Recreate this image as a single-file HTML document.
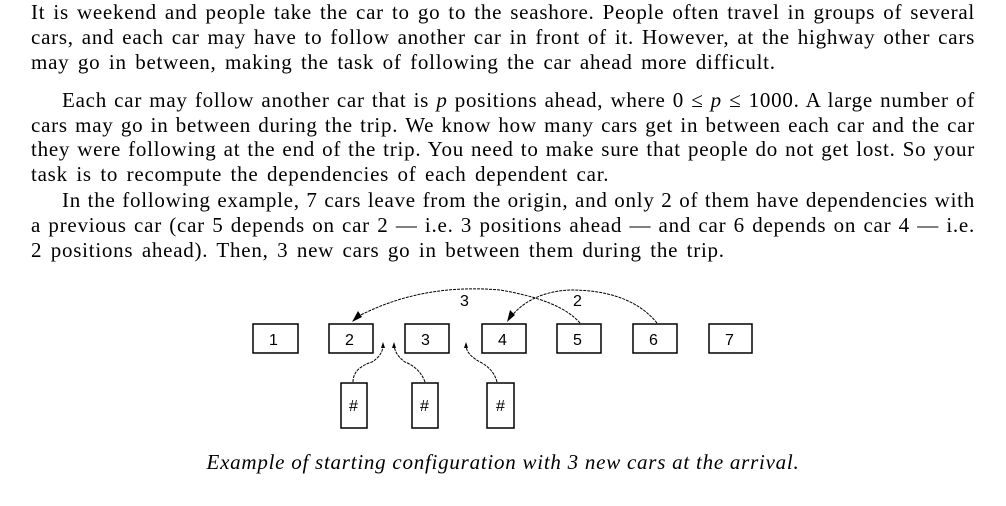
<!DOCTYPE html>
<html><head><meta charset="utf-8"><style>
body{margin:0;background:#fff;width:1006px;height:506px;position:relative;overflow:hidden;font-family:"Liberation Serif",serif;font-size:21px;letter-spacing:0.75px;color:#000}
.l{position:absolute;left:31px;width:944px;height:24px;line-height:24px;text-align:justify;text-align-last:justify;white-space:nowrap}
.l.e{text-align-last:left;word-spacing:2.5px}
.i{left:62px;width:913px}
.cap{position:absolute;left:0;width:1006px;top:450px;text-align:center;font-style:italic;line-height:24px}
</style></head><body>
<div class="l" style="top:0">It is weekend and people take the car to go to the seashore. People often travel in groups of several</div>
<div class="l" style="top:25px">cars, and each car may have to follow another car in front of it. However, at the highway other cars</div>
<div class="l e" style="top:50px">may go in between, making the task of following the car ahead more difficult.</div>
<div class="l i" style="top:88px">Each car may follow another car that is <i>p</i> positions ahead, where 0 ≤ <i>p</i> ≤ 1000. A large number of</div>
<div class="l" style="top:113px">cars may go in between during the trip. We know how many cars get in between each car and the car</div>
<div class="l" style="top:137px">they were following at the end of the trip. You need to make sure that people do not get lost. So your</div>
<div class="l e" style="top:162px">task is to recompute the dependencies of each dependent car.</div>
<div class="l i" style="top:188px">In the following example, 7 cars leave from the origin, and only 2 of them have dependencies with</div>
<div class="l" style="top:213px">a previous car (car 5 depends on car 2 — i.e. 3 positions ahead — and car 6 depends on car 4 — i.e.</div>
<div class="l e" style="top:238px">2 positions ahead). Then, 3 new cars go in between them during the trip.</div>
<svg style="position:absolute;left:0;top:0" width="1006" height="506" font-family="Liberation Sans, sans-serif" font-size="16" letter-spacing="0">
<g fill="none" stroke="#000" stroke-width="1.5">
<rect x="253" y="324" width="45" height="29"/><rect x="329" y="324" width="44" height="29"/>
<rect x="405" y="324" width="44" height="29"/><rect x="482" y="324" width="44" height="29"/>
<rect x="557" y="324" width="44" height="29"/><rect x="633" y="324" width="44" height="29"/>
<rect x="709" y="324" width="43" height="29"/>
<rect x="341" y="383" width="26" height="45"/><rect x="412" y="383" width="26" height="45"/><rect x="487" y="383" width="27" height="45"/>
<g stroke-width="1" stroke-dasharray="3,1">
<path d="M580 323 Q560 300 500 290 Q420 283 355 318"/>
<path d="M657 323 Q630 290 570 290 Q530 292 510 318"/>
<path d="M353 382 Q353 368 372 362 Q383 355 383 345"/>
<path d="M425 382 Q420 368 405 362 Q395 355 394 345"/>
<path d="M497 382 Q494 370 482 363 Q466 355 466 345"/>
</g></g>
<g fill="#000">
<polygon points="352,322 358,311 362,317"/><polygon points="507,322 510,310 515,315"/>
<polygon points="383,342 381,348 385,348"/><polygon points="394,342 392,348 396,348"/><polygon points="466,342 464,348 468,348"/>
<text x="269" y="345">1</text><text x="345" y="345">2</text><text x="421" y="345">3</text><text x="498" y="345">4</text><text x="573" y="345">5</text><text x="649" y="345">6</text><text x="725" y="345">7</text>
<text x="460" y="306">3</text><text x="573" y="306">2</text>
<text x="349" y="411">#</text><text x="420" y="411">#</text><text x="496" y="411">#</text>
</g></svg>
<div class="cap">Example of starting configuration with 3 new cars at the arrival.</div>
</body></html>
